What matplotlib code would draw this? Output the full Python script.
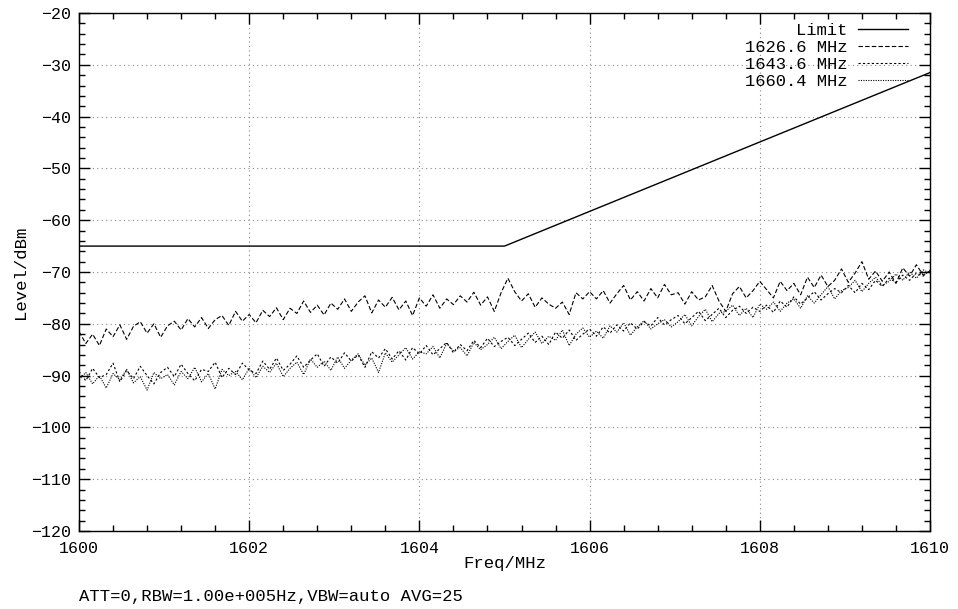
import numpy as np
import matplotlib
matplotlib.use("Agg")
import matplotlib.pyplot as plt
from matplotlib.ticker import MultipleLocator

plt.rcParams['font.family'] = ['Liberation Mono', 'DejaVu Sans Mono']

limit_freq = [1600, 1605, 1610]
limit_level = [-65, -65, -31.5]

freq_start, freq_stop = 1600, 1610

trace_1626 = [
    -81.5, -83.8, -82.0, -84.2, -81.0, -82.5, -80.2, -83.0, -80.5, -79.6, -81.8, -80.0, -82.6,
    -80.4, -79.5, -81.2, -79.0, -80.6, -78.8, -80.9, -79.2, -78.4, -80.3, -77.6, -79.5, -78.2,
    -79.8, -77.4, -78.6, -76.9, -79.2, -77.0, -78.0, -75.6, -77.8, -76.4, -78.3, -76.0,
    -77.2, -75.2, -77.6, -75.8, -74.6, -77.9, -75.4, -76.8, -74.9, -77.3, -75.6, -78.4, -75.0,
    -76.6, -74.4, -77.0, -75.2, -76.3, -74.6, -75.8, -73.9, -76.4, -74.8, -77.6, -74.0,
    -71.2, -73.8, -75.6, -74.2, -76.8, -75.0, -76.2, -77.0, -75.8, -78.2, -74.0, -75.2, -73.8,
    -75.2, -73.6, -76.0, -74.2, -72.6, -75.4, -73.8, -75.6, -73.2, -75.0, -72.4, -74.4,
    -74.0, -76.2, -73.8, -75.4, -74.8, -72.6, -75.6, -77.6, -74.2, -72.8, -75.0, -73.6, -71.8,
    -73.4, -75.0, -71.8, -73.6, -72.2, -74.4, -71.0, -73.0, -70.6, -72.8, -71.6, -69.4,
    -72.0, -70.2, -68.0, -71.4, -69.8, -71.8, -70.0, -72.2, -69.2, -70.8, -68.6, -70.6, -69.8,
]

trace_1643 = [
    -89.2, -91.0, -88.6, -90.4, -89.8, -87.6, -91.2, -89.0, -90.6, -88.2, -90.0, -91.6, -89.4,
    -88.4, -90.2, -87.8, -89.6, -91.0, -88.8, -89.2, -87.4, -90.4, -88.6, -89.8, -87.6, -88.9,
    -89.6, -87.2, -88.8, -86.6, -89.0, -87.8, -86.2, -88.4, -87.0, -85.8, -88.2, -86.4,
    -87.6, -85.6, -87.2, -86.0, -88.4, -85.4, -86.6, -84.8, -86.8, -85.2, -87.0, -84.6, -85.8,
    -84.2, -86.0, -84.8, -83.6, -85.6, -84.0, -85.2, -83.2, -84.6, -82.8, -84.4, -83.4,
    -82.6, -84.2, -83.0, -81.8, -83.6, -82.4, -84.0, -81.6, -82.8, -81.2, -83.2, -82.0, -81.0,
    -82.4, -80.6, -81.8, -80.2, -81.4, -79.8, -81.0, -79.6, -80.4, -78.8, -80.2, -79.2,
    -78.4, -80.0, -78.8, -77.6, -79.4, -78.2, -77.0, -78.8, -77.4, -76.6, -78.0, -76.8, -77.6,
    -76.4, -77.8, -75.6, -76.8, -74.8, -76.2, -75.0, -73.8, -75.4, -74.2, -73.2, -74.0,
    -72.6, -74.0, -72.2, -73.4, -71.6, -72.8, -71.2, -72.0, -70.6, -71.6, -70.2, -70.8, -69.6,
]

trace_1660 = [
    -90.8, -89.4, -91.6, -90.0, -92.4, -89.6, -90.8, -88.8, -91.4, -90.2, -92.8, -89.4, -90.6,
    -89.8, -91.8, -89.2, -90.6, -88.4, -91.2, -89.6, -92.6, -88.8, -90.0, -89.2, -90.8, -88.6,
    -90.4, -88.2, -89.4, -87.6, -90.2, -88.6, -87.4, -89.8, -86.8, -88.4, -87.2, -89.0,
    -86.4, -88.6, -87.0, -85.8, -88.0, -86.6, -89.4, -85.6, -87.4, -86.0, -84.6, -86.8, -85.4,
    -85.8, -84.4, -86.6, -83.8, -85.2, -84.6, -86.2, -83.6, -85.0, -84.0, -82.6, -84.8,
    -83.4, -82.2, -84.6, -83.0, -81.6, -83.8, -82.4, -83.2, -81.2, -84.2, -82.0, -80.8, -82.6,
    -81.4, -82.8, -80.4, -81.6, -79.8, -82.2, -80.6, -79.4, -81.0, -80.0, -79.2, -80.6,
    -79.6, -78.2, -80.4, -78.6, -77.2, -79.6, -78.0, -77.6, -76.4, -78.4, -77.0, -78.8, -76.2,
    -77.2, -75.8, -77.6, -76.0, -75.2, -77.0, -74.6, -76.0, -74.4, -72.8, -75.2, -73.6,
    -73.0, -71.6, -73.8, -72.2, -71.0, -72.6, -71.8, -70.4, -71.6, -70.0, -71.2, -69.6, -70.2,
]

freq = np.linspace(freq_start, freq_stop, len(trace_1626))

fig = plt.figure(figsize=(9.58, 6.09), dpi=100)
ax = fig.add_axes([79/958, 1-531/609, (930-79)/958, (531-13)/609])

ax.plot(limit_freq, limit_level, color='black', lw=1.0, label='Limit')
ax.plot(freq, trace_1626, color='black', lw=0.8, dashes=(4, 2), label='1626.6 MHz')
ax.plot(freq, trace_1643, color='black', lw=0.8, dashes=(2, 2), label='1643.6 MHz')
ax.plot(freq, trace_1660, color='black', lw=0.8, dashes=(1, 1.2), label='1660.4 MHz')

ax.set_xlim(1600, 1610)
ax.set_ylim(-120, -20)
ax.xaxis.set_major_locator(MultipleLocator(2))
ax.xaxis.set_minor_locator(MultipleLocator(0.4))
ax.yaxis.set_major_locator(MultipleLocator(10))
ax.yaxis.set_minor_locator(MultipleLocator(2))
ax.tick_params(which='both', direction='in', top=True, right=True, labelsize=12, width=1)
ax.tick_params(which='major', length=8)
ax.tick_params(which='minor', length=4)
ax.tick_params(axis='x', pad=7)
ax.tick_params(axis='y', pad=6)
ax.grid(True, which='major', color='#888888', linestyle=(0, (1, 3)), lw=0.8)
for s in ax.spines.values():
    s.set_linewidth(1.0)

ax.set_xlabel('Freq/MHz', fontsize=12.4, labelpad=0)
ax.set_ylabel('Level/dBm', fontsize=12.4, labelpad=2)

leg = ax.legend(loc='upper right', bbox_to_anchor=(0.982, 0.994), frameon=False,
                markerfirst=False, fontsize=12.3, handlelength=2.9, labelspacing=0.12,
                borderaxespad=0.0, handletextpad=0.64)

fig.text(79/958, 1-597/609, 'ATT=0,RBW=1.00e+005Hz,VBW=auto AVG=25', fontsize=12.4,
         va='center', ha='left')

fig.savefig('out.png', dpi=100)
